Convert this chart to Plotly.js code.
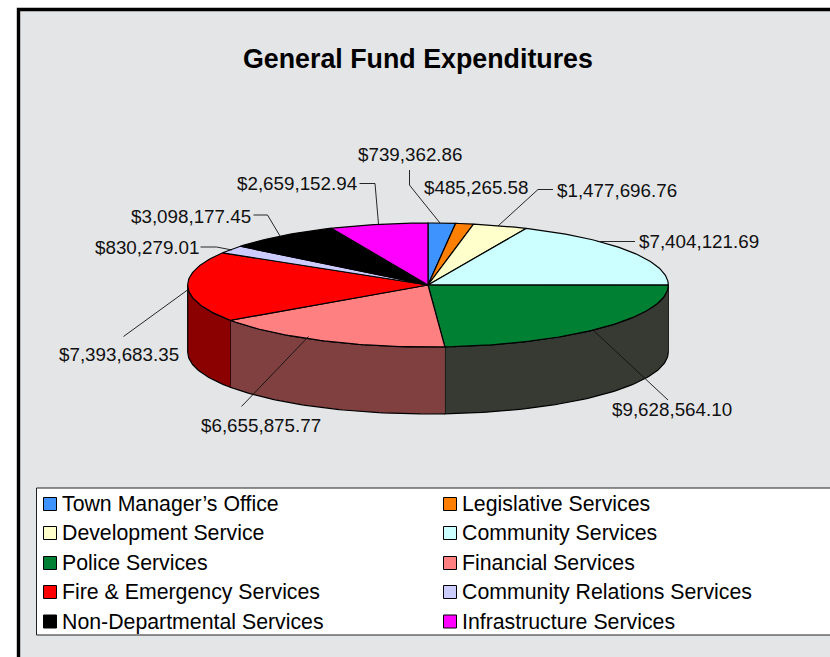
<!DOCTYPE html>
<html><head><meta charset="utf-8">
<script src="https://cdn.plot.ly/plotly-3.0.1.min.js"></script>
<style>html,body{margin:0;padding:0;background:#fff;overflow:hidden}#c{width:830px;height:657px}</style>
</head><body><div id="c"></div>
<script>
var categories=["Town Manager\u2019s Office","Legislative Services","Development Service","Community Services","Police Services","Financial Services","Fire & Emergency Services","Community Relations Services","Non-Departmental Services","Infrastructure Services"];
var values=[739362.86,485265.58,1477696.76,7404121.69,9628564.10,6655875.77,7393683.35,830279.01,3098177.45,2659152.94];
var topColors=["#3f93ff","#ff7f00","#ffffcc","#ccffff","#008033","#ff8080","#ff0000","#ccccff","#000000","#ff00ff"];
var sideColors=["#204a80","#804000","#808066","#668080","#363a33","#804040","#8b0000","#666680","#000000","#800080"];
var legendOrder=[0,1,2,3,4,5,6,7,8,9];
var chartTitle="General Fund Expenditures";

// Layout (page pixels)
var cx=428,cy=285,rx=240.3,ry=62,depth=67;
var labelPos=[[409.5,154,"center"],[476,187,"center"],[556,190,"left"],[638,241,"left"],[611,409,"left"],[200,425,"left"],[57.5,354,"left"],[93.5,247,"left"],[130,216,"left"],[236,183.5,"left"]];
var leaders=[[[409.5,170],[409.5,185],[415,192],[440,223]],null,[[553,189.5],[538,189.5],[498,226]],[[635,241.5],[597,241.5]],[[668,400],[593,330]],[[241.5,406.5],[308.5,336.5]],[[123.5,336.5],[187.5,290]],[[200.5,247],[216.5,247],[232,250]],[[253.5,215],[267.5,215],[280,236]],[[359.5,183.5],[375,183.5],[378.5,224]]];
var legendRows=[504,533,563,592,621.5],legendCols=[50,450],legendTextX=[61,460.5];

var FONT="'Liberation Sans',Arial,sans-serif";
var total=values.reduce(function(a,b){return a+b},0);
function pt(deg,dy){var r=deg*Math.PI/180;return [cx+rx*Math.sin(r),cy-ry*Math.cos(r)+(dy||0)];}
function arc(a,b,dy){var out=[],n=Math.max(2,Math.ceil(Math.abs(b-a)));for(var i=0;i<=n;i++)out.push(pt(a+(b-a)*i/n,dy));return out;}
function poly(points,color,name,txt){return {type:"scatter",mode:"lines",x:points.map(function(p){return p[0]}),y:points.map(function(p){return p[1]}),fill:"toself",fillcolor:color,line:{color:"#000",width:1.2,shape:"linear"},name:name,text:txt,hoverinfo:"name+text",showlegend:false};}
function money(v){return "$"+v.toLocaleString("en-US",{minimumFractionDigits:2,maximumFractionDigits:2});}

var sides=[],tops=[],anns=[],acc=0;
values.forEach(function(v,i){
  var a=acc/total*360,b=(acc+v)/total*360;acc+=v;
  var s=Math.max(a,90),e=Math.min(b,270);
  if(e>s){sides.push(poly(arc(s,e,0).concat(arc(e,s,depth)),sideColors[i],categories[i],money(v)));}
  tops.push(poly([[cx,cy]].concat(arc(a,b,0)).concat([[cx,cy]]),topColors[i],categories[i],money(v)));
  anns.push({x:labelPos[i][0],y:labelPos[i][1],xref:"x",yref:"y",text:money(v),showarrow:false,xanchor:labelPos[i][2],yanchor:"middle",font:{family:FONT,size:18.8,color:"#111"},borderpad:0});
});
var lead=leaders.filter(Boolean).map(function(l){return {type:"scatter",mode:"lines",x:l.map(function(p){return p[0]}),y:l.map(function(p){return p[1]}),line:{color:"#111",width:0.9},hoverinfo:"skip",showlegend:false};});

var swX=[],swY=[],swC=[];
legendOrder.forEach(function(k,i){var col=i%2,row=(i-col)/2;swX.push(legendCols[col]);swY.push(legendRows[row]);swC.push(topColors[k]);
  anns.push({x:legendTextX[col],y:legendRows[row],xref:"x",yref:"y",text:categories[k],showarrow:false,xanchor:"left",yanchor:"middle",font:{family:FONT,size:21.3,color:"#000"},borderpad:0});});
var swatches={type:"scatter",mode:"markers",x:swX,y:swY,marker:{symbol:"square",size:13,color:swC,line:{color:"#000",width:1}},hoverinfo:"skip",showlegend:false};

anns.push({x:418,y:58.5,xref:"x",yref:"y",text:"<b>"+chartTitle+"</b>",showarrow:false,xanchor:"center",yanchor:"middle",font:{family:FONT,size:26.8,color:"#000"},borderpad:0});

var layout={width:830,height:657,margin:{l:0,r:0,t:0,b:0},paper_bgcolor:"#fff",plot_bgcolor:"#fff",showlegend:false,
  xaxis:{range:[0,830],visible:false,fixedrange:true},yaxis:{range:[657,0],visible:false,fixedrange:true},
  shapes:[
    {type:"rect",xref:"x",yref:"y",x0:18.5,y0:9.5,x1:850,y1:680,line:{color:"#000",width:3.4},fillcolor:"#e4e5e7",layer:"below"},
    {type:"rect",xref:"x",yref:"y",x0:36.5,y0:488,x1:850,y1:635,line:{color:"#222",width:1},fillcolor:"#fff",layer:"below"}
  ],annotations:anns};
Plotly.newPlot("c",sides.concat(tops,lead,[swatches]),layout,{staticPlot:true,displayModeBar:false});
</script></body></html>
